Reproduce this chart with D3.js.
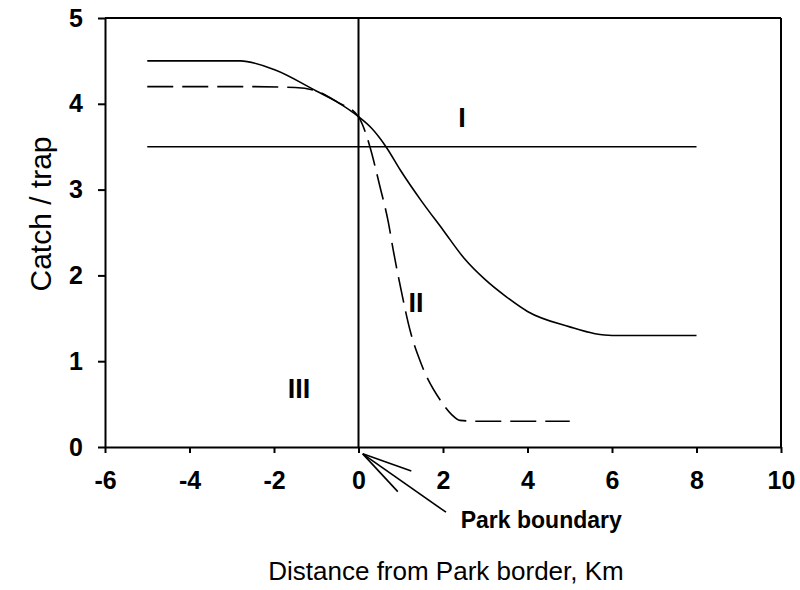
<!DOCTYPE html>
<html><head><meta charset="utf-8">
<script src="https://cdn.jsdelivr.net/npm/d3@7"></script>
<style>
html,body{margin:0;padding:0;background:#fff;}
svg{display:block;font-family:Arial,"Liberation Sans",sans-serif;}
</style></head>
<body>
<svg id="c" width="800" height="590"></svg>
<script>
// Data
const xTicks = [-6, -4, -2, 0, 2, 4, 6, 8, 10];
const yTicks = [0, 1, 2, 3, 4, 5];
const curveIx = [-5, -2.8, -2, -1, -0.5, 0, 0.3, 0.65, 1, 1.5, 2, 2.5, 3, 3.5, 4, 5, 5.6, 6, 8];
const curveIy = [4.5, 4.5, 4.4, 4.15, 4.02, 3.85, 3.72, 3.5, 3.22, 2.86, 2.53, 2.2, 1.95, 1.75, 1.58, 1.4, 1.32, 1.3, 1.3];
const curveIIx = [-5, -2.5, -1.5, -1, -0.5, 0, 0.1, 0.27, 0.5, 0.71, 0.82, 1.0, 1.22, 1.5, 1.93, 2.2, 2.4, 2.88, 5];
const curveIIy = [4.2, 4.2, 4.19, 4.15, 4.02, 3.85, 3.75, 3.5, 3.05, 2.61, 2.3, 1.85, 1.36, 0.95, 0.55, 0.38, 0.31, 0.3, 0.3];
const levelIx = [-5, 8];
const levelIy = [3.5, 3.5];
const regionLabels = ["I", "II", "III"];
const regionX = [2.45, 1.36, -1.41];
const regionY = [3.73, 1.57, 0.57];

const svg = d3.select("#c");
const L = 105, R = 781, T = 18, B = 447;
const x = d3.scaleLinear().domain([-6, 10]).range([L, R]);
const y = d3.scaleLinear().domain([0, 5]).range([B, T]);
const fmt = d => String(d).replace("\u2212", "-");

// frame
svg.append("line").attr("x1", L).attr("x2", R).attr("y1", T).attr("y2", T).attr("stroke", "#000").attr("stroke-width", 2);
svg.append("line").attr("x1", R).attr("x2", R).attr("y1", T).attr("y2", B).attr("stroke", "#000").attr("stroke-width", 2);

const xAxis = svg.append("g").attr("transform", `translate(0,${B})`)
  .call(d3.axisBottom(x).tickValues(xTicks).tickFormat(fmt).tickSize(6).tickSizeOuter(0).tickPadding(18));
const yAxis = svg.append("g").attr("transform", `translate(${L},0)`)
  .call(d3.axisLeft(y).tickValues(yTicks).tickFormat(fmt).tickSize(7).tickSizeOuter(0).tickPadding(15));
[xAxis, yAxis].forEach(g => {
  g.select(".domain").attr("stroke-width", 2);
  g.selectAll(".tick line").attr("stroke-width", 2);
  g.selectAll(".tick text").attr("font-size", 25).attr("font-weight", "bold").attr("fill", "#000")
    .attr("font-family", "Arial, 'Liberation Sans', sans-serif");
});

// vertical park border line
svg.append("line").attr("x1", x(0)).attr("x2", x(0)).attr("y1", y(0)).attr("y2", y(5))
  .attr("stroke", "#000").attr("stroke-width", 2);

const line = d3.line().x(d => x(d[0])).y(d => y(d[1])).curve(d3.curveMonotoneX);
svg.append("path").datum(levelIx.map((v, i) => [v, levelIy[i]])).attr("d", line)
  .attr("fill", "none").attr("stroke", "#000").attr("stroke-width", 1.6);
svg.append("path").datum(curveIx.map((v, i) => [v, curveIy[i]])).attr("d", line)
  .attr("fill", "none").attr("stroke", "#000").attr("stroke-width", 1.6);
svg.append("path").datum(curveIIx.map((v, i) => [v, curveIIy[i]])).attr("d", line)
  .attr("fill", "none").attr("stroke", "#000").attr("stroke-width", 1.6).attr("stroke-dasharray", "26,9");

// region labels
svg.selectAll("text.reg").data(regionLabels).join("text").attr("class", "reg")
  .attr("x", (d, i) => x(regionX[i])).attr("y", (d, i) => y(regionY[i]))
  .attr("text-anchor", "middle").attr("font-size", 27).attr("font-weight", "bold").text(d => d);

// park boundary pointer
const apex = [0.1, -0.08];
const ends = [[1.25, -0.28], [0.93, -0.52], [2.07, -0.76]];
ends.forEach(e => {
  svg.append("line").attr("x1", x(apex[0])).attr("y1", y(apex[1])).attr("x2", x(e[0])).attr("y2", y(e[1]))
    .attr("stroke", "#000").attr("stroke-width", 1.6);
});
svg.append("text").attr("x", x(2.42)).attr("y", y(-0.94)).attr("font-size", 23).attr("font-weight", "bold")
  .text("Park boundary");

// axis titles
svg.append("text").attr("x", 446).attr("y", 580).attr("text-anchor", "middle").attr("font-size", 26)
  .text("Distance from Park border, Km");
svg.append("text").attr("transform", "translate(51,214) rotate(-90)").attr("text-anchor", "middle")
  .attr("font-size", 30).text("Catch / trap");
</script>
</body></html>
